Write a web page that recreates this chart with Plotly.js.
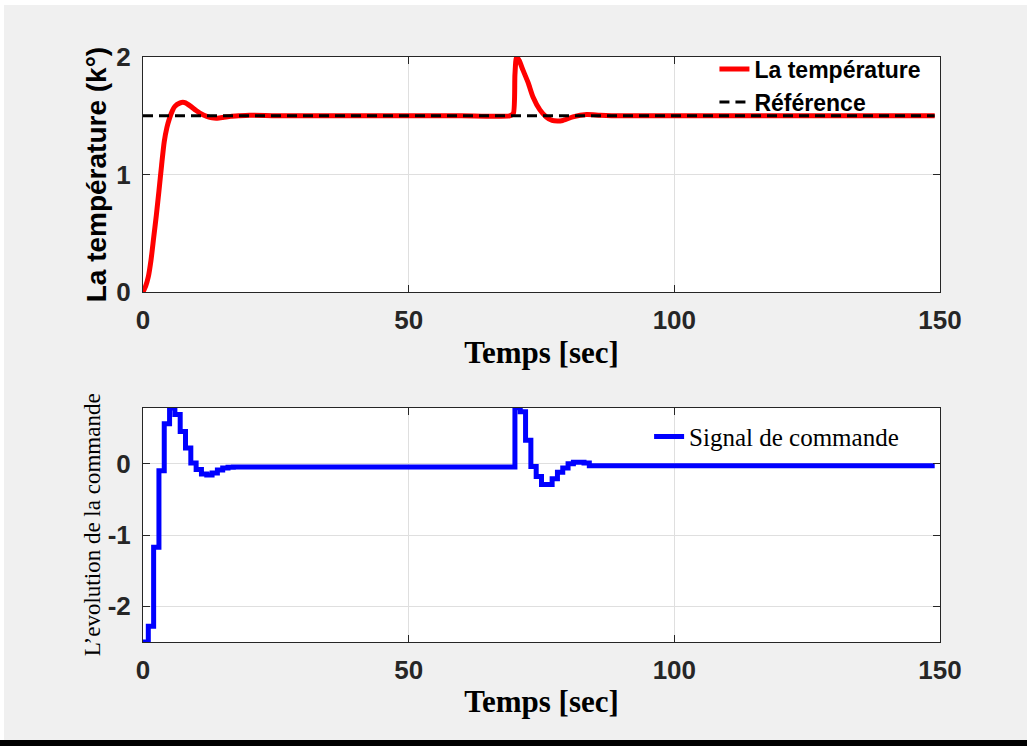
<!DOCTYPE html>
<html>
<head>
<meta charset="utf-8">
<script src="https://cdn.plot.ly/plotly-3.0.1.min.js"></script>
<style>
  html, body { margin: 0; padding: 0; background: #ffffff; width: 1027px; height: 746px; overflow: hidden; }
  #chart { position: absolute; left: 4px; top: 5px; width: 1023px; height: 735px; }
  #bar { position: absolute; left: 0; top: 740px; width: 1027px; height: 6px; background: #000000; }
</style>
</head>
<body>
<div id="chart"></div>
<div id="bar"></div>
<script>
// ---- Data ----
const tempTime = [0, 0.5, 1, 1.5, 2, 2.5, 3, 3.5, 4, 4.5, 5, 5.5, 6, 7, 7.5, 8, 9, 10, 11, 12, 13, 14, 15, 16.5, 18, 20, 25, 30, 40, 50, 60, 69, 69.7, 70, 70.3, 70.8, 71.5, 72.5, 73.4, 74.7, 75.9, 77, 78, 79, 80.9, 83.5, 86, 90, 100, 120, 149];
const tempValue = [0, 0.05, 0.13, 0.27, 0.46, 0.65, 0.86, 1.08, 1.28, 1.40, 1.48, 1.54, 1.58, 1.61, 1.615, 1.61, 1.58, 1.545, 1.515, 1.495, 1.482, 1.48, 1.485, 1.495, 1.50, 1.505, 1.50, 1.50, 1.50, 1.50, 1.50, 1.50, 1.52, 1.85, 2.00, 1.97, 1.89, 1.78, 1.66, 1.55, 1.49, 1.46, 1.455, 1.46, 1.49, 1.51, 1.505, 1.50, 1.50, 1.50, 1.50];

const refTime = [0, 149];
const refValue = [1.5, 1.5];

const cmdTime = [0, 1, 2, 3, 4, 5, 6, 7, 8, 9, 10, 11, 12, 13, 14, 15, 16, 17, 70, 71, 72, 73, 74, 75, 76, 77, 78, 79, 80, 81, 82, 83, 84, 149];
const cmdValue = [-2.5, -2.28, -1.17, -0.10, 0.56, 0.78, 0.69, 0.45, 0.22, 0.01, -0.08, -0.145, -0.16, -0.13, -0.09, -0.06, -0.05, -0.045, 0.785, 0.73, 0.33, -0.04, -0.18, -0.29, -0.29, -0.21, -0.12, -0.06, 0.0, 0.02, 0.02, 0.01, -0.03, -0.03];

const xTicks = [0, 50, 100, 150];
const xTickText = ['0', '50', '100', '150'];
const yTopTicks = [0, 1, 2];
const yTopTickText = ['0', '1', '2'];
const yBotTicks = [-2, -1, 0];
const yBotTickText = ['-2', '-1', '0'];

const names = {
  temp: 'La température',
  ref: 'Référence',
  cmd: 'Signal de commande',
  xTitle: 'Temps [sec]',
  yTop: 'La température (k°)',
  yBot: 'L\u2019evolution de la commande'
};

// ---- Styles ----
const axisColor = '#262626';
const gridColor = '#dfdfdf';
const tickFont = { family: 'Liberation Sans, Arial, sans-serif', size: 26, weight: 'bold', color: axisColor };
const xTitleFont = { family: 'Liberation Serif, Times New Roman, serif', size: 31, weight: 'bold', color: '#000000' };

function baseAxis() {
  return {
    showline: true, linecolor: axisColor, linewidth: 1, mirror: 'allticks',
    ticks: 'inside', ticklen: 7, tickcolor: axisColor, tickwidth: 1,
    showgrid: true, gridcolor: gridColor, gridwidth: 1, zeroline: false,
    tickfont: tickFont, tickmode: 'array', fixedrange: true
  };
}

const traces = [
  { x: tempTime, y: tempValue, type: 'scatter', mode: 'lines', name: names.temp,
    line: { color: '#ff0000', width: 5, shape: 'spline', smoothing: 0.6 }, xaxis: 'x', yaxis: 'y', legend: 'legend' },
  { x: refTime, y: refValue, type: 'scatter', mode: 'lines', name: names.ref,
    line: { color: '#000000', width: 3, dash: '10px,6px' }, xaxis: 'x', yaxis: 'y', legend: 'legend' },
  { x: cmdTime, y: cmdValue, type: 'scatter', mode: 'lines', name: names.cmd,
    line: { color: '#0000ff', width: 5, shape: 'hv' }, xaxis: 'x2', yaxis: 'y2', legend: 'legend2' }
];

const layout = {
  width: 1023, height: 735,
  paper_bgcolor: '#f0f0f0', plot_bgcolor: '#ffffff',
  margin: { l: 139, r: 87, t: 52, b: 97.5, pad: 0 },
  showlegend: true,
  xaxis: Object.assign(baseAxis(), {
    domain: [0, 1], range: [0, 150], anchor: 'y',
    tickvals: xTicks, ticktext: xTickText, ticklabelstandoff: 5,
    title: { text: names.xTitle, font: xTitleFont, standoff: 6 }
  }),
  yaxis: Object.assign(baseAxis(), {
    domain: [0.5981, 1], range: [0, 2], anchor: 'x',
    tickvals: yTopTicks, ticktext: yTopTickText, ticklabelstandoff: 6,
    title: { text: names.yTop, font: { family: 'Liberation Sans, Arial, sans-serif', size: 28, weight: 'bold', color: '#000000' }, standoff: 1 }
  }),
  xaxis2: Object.assign(baseAxis(), {
    domain: [0, 1], range: [0, 150], anchor: 'y2',
    tickvals: xTicks, ticktext: xTickText, ticklabelstandoff: 5,
    title: { text: names.xTitle, font: xTitleFont, standoff: 6 }
  }),
  yaxis2: Object.assign(baseAxis(), {
    domain: [0, 0.4005], range: [-2.5, 0.785], anchor: 'x2',
    tickvals: yBotTicks, ticktext: yBotTickText, ticklabelstandoff: 6,
    title: { text: names.yBot, font: { family: 'Liberation Serif, Times New Roman, serif', size: 23, color: '#000000' }, standoff: 0 }
  }),
  legend: {
    x: 0.717, y: 1.016, xanchor: 'left', yanchor: 'top',
    bgcolor: 'rgba(0,0,0,0)', borderwidth: 0,
    font: { family: 'Liberation Sans, Arial, sans-serif', size: 23, weight: 'bold', color: '#000000' },
    traceorder: 'normal'
  },
  legend2: {
    x: 0.635, y: 0.39, xanchor: 'left', yanchor: 'top',
    bgcolor: 'rgba(0,0,0,0)', borderwidth: 0,
    font: { family: 'Liberation Serif, Times New Roman, serif', size: 25, color: '#000000' }
  }
};

Plotly.newPlot('chart', traces, layout, { displayModeBar: false, staticPlot: true });
</script>
</body>
</html>
